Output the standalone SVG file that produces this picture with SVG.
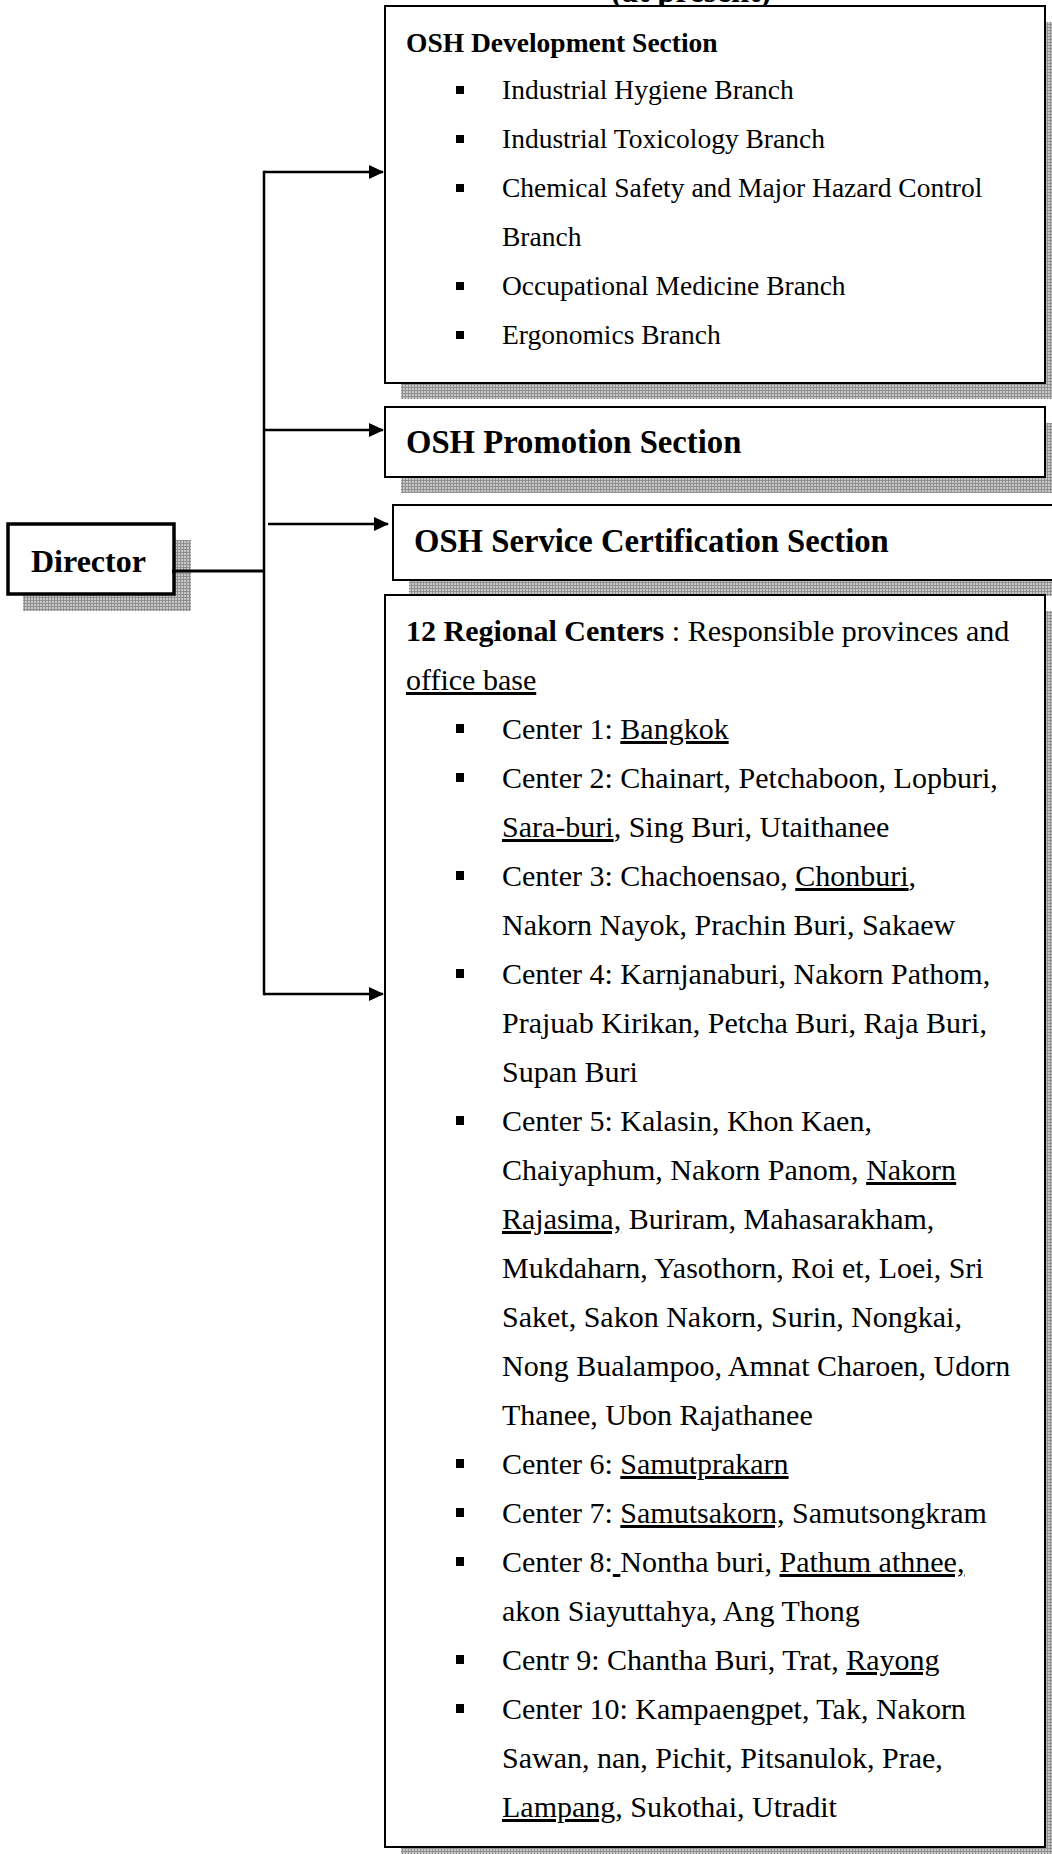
<svg xmlns="http://www.w3.org/2000/svg" width="1052" height="1854" viewBox="0 0 1052 1854">
<defs>
<pattern id="hatch" width="3" height="3" patternUnits="userSpaceOnUse">
<rect width="3" height="3" fill="#c8c8c8"/>
<path d="M0,0.5H3M0.5,0V3" stroke="#909090" stroke-width="1"/>
</pattern>
<marker id="arrow" viewBox="0 0 15 14" markerWidth="15" markerHeight="14" refX="14" refY="7" orient="auto" markerUnits="userSpaceOnUse">
<path d="M0,0 L15,7 L0,14 Z" fill="#000"/>
</marker>
</defs>
<style>
.shadow{fill:url(#hatch)}
.box{fill:#fff;stroke:#000;stroke-width:2}
.dbox{fill:#fff;stroke:#000;stroke-width:3.5}
.t{font-family:"Liberation Serif","Times New Roman",serif;fill:#000}
.h{font-size:32.7px;font-weight:bold}
.s1{font-size:27.5px}
.s2{font-size:30px}
.b{font-weight:bold}
.u{text-decoration:underline;text-decoration-skip-ink:none}
.bl{fill:#000}
.conn{stroke:#000;stroke-width:2.5;fill:none}
</style>

<g id="title">
<text class="t h" x="691" y="2" text-anchor="middle">(at present)</text>
</g>

<g id="director">
<rect class="shadow" x="23" y="540" width="168" height="71"/>
<rect class="dbox" x="8" y="524" width="166" height="70"/>
<text class="t h" x="31" y="572" style="font-size:32px">Director</text>
</g>

<g id="osh-development">
<rect class="shadow" x="401" y="22" width="660" height="377"/>
<rect class="box" x="385" y="6" width="660" height="377"/>
<text class="t s1 b" x="406" y="52">OSH Development Section</text>
<g class="bl">
<rect x="456" y="86" width="8" height="8"/>
<rect x="456" y="135" width="8" height="8"/>
<rect x="456" y="184" width="8" height="8"/>
<rect x="456" y="282" width="8" height="8"/>
<rect x="456" y="331" width="8" height="8"/>
</g>
<text class="t s1" x="502" y="99">Industrial Hygiene Branch</text>
<text class="t s1" x="502" y="148">Industrial Toxicology Branch</text>
<text class="t s1" x="502" y="197">Chemical Safety and Major Hazard Control</text>
<text class="t s1" x="502" y="246">Branch</text>
<text class="t s1" x="502" y="295">Occupational Medicine Branch</text>
<text class="t s1" x="502" y="344">Ergonomics Branch</text>
</g>

<g id="osh-promotion">
<rect class="shadow" x="401" y="423" width="660" height="70"/>
<rect class="box" x="385" y="407" width="660" height="70"/>
<text class="t h" x="406" y="453">OSH Promotion Section</text>
</g>

<g id="osh-certification">
<rect class="shadow" x="409" y="521" width="700" height="75"/>
<rect class="box" x="393" y="505" width="700" height="75"/>
<text class="t h" x="414" y="552">OSH Service Certification Section</text>
</g>

<g id="regional-centers">
<rect class="shadow" x="401" y="611" width="660" height="1252"/>
<rect class="box" x="385" y="595" width="660" height="1252"/>
<text class="t s2" x="406" y="641"><tspan class="b">12 Regional Centers</tspan> : Responsible provinces and</text>
<text class="t s2" x="406" y="690"><tspan class="u">office base</tspan></text>
<g class="bl">
<rect x="456" y="724" width="8" height="9"/>
<rect x="456" y="773" width="8" height="9"/>
<rect x="456" y="871" width="8" height="9"/>
<rect x="456" y="969" width="8" height="9"/>
<rect x="456" y="1116" width="8" height="9"/>
<rect x="456" y="1459" width="8" height="9"/>
<rect x="456" y="1508" width="8" height="9"/>
<rect x="456" y="1557" width="8" height="9"/>
<rect x="456" y="1655" width="8" height="9"/>
<rect x="456" y="1704" width="8" height="9"/>
</g>
<text class="t s2" x="502" y="739">Center 1: <tspan class="u">Bangkok</tspan></text>
<text class="t s2" x="502" y="788">Center 2: Chainart, Petchaboon, Lopburi,</text>
<text class="t s2" x="502" y="837"><tspan class="u">Sara-buri</tspan>, Sing Buri, Utaithanee</text>
<text class="t s2" x="502" y="886">Center 3: Chachoensao, <tspan class="u">Chonburi</tspan>,</text>
<text class="t s2" x="502" y="935">Nakorn Nayok, Prachin Buri, Sakaew</text>
<text class="t s2" x="502" y="984">Center 4: Karnjanaburi, Nakorn Pathom,</text>
<text class="t s2" x="502" y="1033">Prajuab Kirikan, Petcha Buri, Raja Buri,</text>
<text class="t s2" x="502" y="1082">Supan Buri</text>
<text class="t s2" x="502" y="1131">Center 5: Kalasin, Khon Kaen,</text>
<text class="t s2" x="502" y="1180">Chaiyaphum, Nakorn Panom, <tspan class="u">Nakorn</tspan></text>
<text class="t s2" x="502" y="1229"><tspan class="u">Rajasima,</tspan> Buriram, Mahasarakham,</text>
<text class="t s2" x="502" y="1278">Mukdaharn, Yasothorn, Roi et, Loei, Sri</text>
<text class="t s2" x="502" y="1327">Saket, Sakon Nakorn, Surin, Nongkai,</text>
<text class="t s2" x="502" y="1376">Nong Bualampoo, Amnat Charoen, Udorn</text>
<text class="t s2" x="502" y="1425">Thanee, Ubon Rajathanee</text>
<text class="t s2" x="502" y="1474">Center 6: <tspan class="u">Samutprakarn</tspan></text>
<text class="t s2" x="502" y="1523">Center 7: <tspan class="u">Samutsakorn,</tspan> Samutsongkram</text>
<text class="t s2" x="502" y="1572" xml:space="preserve">Center 8:<tspan class="u"> </tspan>Nontha buri, <tspan class="u">Pathum athnee,</tspan></text>
<text class="t s2" x="502" y="1621">akon Siayuttahya, Ang Thong</text>
<text class="t s2" x="502" y="1670">Centr 9: Chantha Buri, Trat, <tspan class="u">Rayong</tspan></text>
<text class="t s2" x="502" y="1719">Center 10: Kampaengpet, Tak, Nakorn</text>
<text class="t s2" x="502" y="1768">Sawan, nan, Pichit, Pitsanulok, Prae,</text>
<text class="t s2" x="502" y="1817"><tspan class="u">Lampang,</tspan> Sukothai, Utradit</text>
</g>

<g id="connectors">
<path class="conn" d="M264,170.8 V995.2"/>
<path class="conn" style="stroke-width:3" d="M172,571 H264"/>
<path class="conn" d="M264,172 H383" marker-end="url(#arrow)"/>
<path class="conn" d="M264,430 H383" marker-end="url(#arrow)"/>
<path class="conn" d="M268,524 H388" marker-end="url(#arrow)"/>
<path class="conn" d="M264,994 H383" marker-end="url(#arrow)"/>
</g>
</svg>
